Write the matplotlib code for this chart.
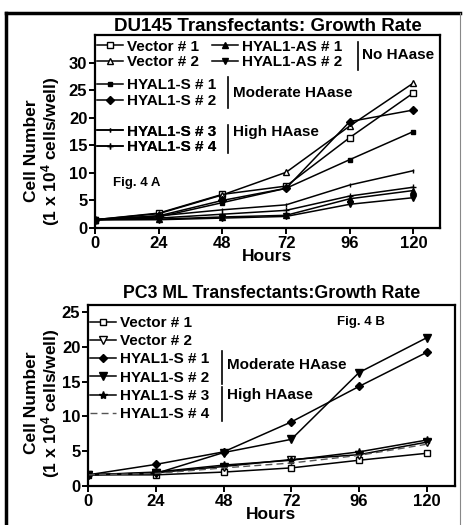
import numpy as np
import matplotlib
matplotlib.use("Agg")
import matplotlib.pyplot as plt
from matplotlib.lines import Line2D

plt.rcParams['font.family'] = ['Liberation Sans', 'DejaVu Sans']
plt.rcParams['font.weight'] = 'bold'
plt.rcParams['mathtext.fontset'] = 'custom'
plt.rcParams['mathtext.rm'] = 'Liberation Sans:bold'
plt.rcParams['mathtext.bf'] = 'Liberation Sans:bold'
plt.rcParams['mathtext.default'] = 'bf'

hours = [0, 24, 48, 72, 96, 120]

# DU145 transfectants (Fig. 4 A)
du_vector1 = [1.5, 2.7, 6.1, 7.6, 16.4, 24.5]
du_vector2 = [1.5, 2.6, 6.0, 10.1, 18.5, 26.3]
du_as1 = [1.5, 1.6, 2.0, 2.3, 5.3, 6.8]
du_as2 = [1.5, 1.5, 1.8, 2.1, 4.3, 5.5]
du_s1 = [1.5, 2.0, 4.6, 7.2, 12.4, 17.5]
du_s2 = [1.5, 2.2, 5.0, 7.2, 19.3, 21.4]
du_s3 = [1.5, 2.2, 3.3, 4.2, 7.8, 10.4]
du_s4 = [1.5, 1.8, 2.5, 3.2, 5.8, 7.4]

# PC3 ML transfectants (Fig. 4 B)
pc_vector1 = [1.6, 1.6, 2.0, 2.6, 3.7, 4.7]
pc_vector2 = [1.6, 1.9, 2.8, 3.8, 4.5, 6.3]
pc_s1 = [1.6, 3.1, 4.9, 9.2, 14.3, 19.2]
pc_s2 = [1.6, 1.8, 4.8, 6.7, 16.3, 21.3]
pc_s3 = [1.6, 2.0, 3.0, 3.7, 4.9, 6.6]
pc_s4 = [1.6, 1.8, 2.6, 3.3, 4.4, 6.0]

W, H = 464, 525
fig = plt.figure(figsize=(W / 100, H / 100), dpi=100)

def box(l, t, r, b):
    return [l / W, (H - b) / H, (r - l) / W, (b - t) / H]

ax1 = fig.add_axes(box(95, 35, 440, 228))
ax2 = fig.add_axes(box(88, 305, 455, 486))

lw = 1.1
k = dict(color='black', lw=lw)

# --- top panel
v1, = ax1.plot(hours, du_vector1, marker='s', ms=5, mfc='white', mec='black', label='Vector # 1', **k)
v2, = ax1.plot(hours, du_vector2, marker='^', ms=5, mfc='white', mec='black', label='Vector # 2', **k)
a1, = ax1.plot(hours, du_as1, marker='^', ms=4, mfc='black', label='HYAL1-AS # 1', **k)
a2, = ax1.plot(hours, du_as2, marker='v', ms=5, mfc='black', label='HYAL1-AS # 2', **k)
s1, = ax1.plot(hours, du_s1, marker='s', ms=3.5, mfc='black', label='HYAL1-S # 1', **k)
s2, = ax1.plot(hours, du_s2, marker='D', ms=4, mfc='black', label='HYAL1-S # 2', **k)
s3, = ax1.plot(hours, du_s3, marker='|', ms=3, mew=1, label='HYAL1-S # 3', **k)
s4, = ax1.plot(hours, du_s4, marker='+', ms=4, mew=1, label='HYAL1-S # 4', **k)

# --- bottom panel
p1, = ax2.plot(hours, pc_vector1, marker='s', ms=5, mfc='white', mec='black', label='Vector # 1', **k)
p2, = ax2.plot(hours, pc_vector2, marker='v', ms=5.5, mfc='white', mec='black', label='Vector # 2', **k)
p3, = ax2.plot(hours, pc_s1, marker='D', ms=4, mfc='black', label='HYAL1-S # 1', **k)
p4, = ax2.plot(hours, pc_s2, marker='v', ms=5.5, mfc='black', label='HYAL1-S # 2', **k)
p5, = ax2.plot(hours, pc_s3, marker='*', ms=6, mfc='black', label='HYAL1-S # 3', **k)
p6, = ax2.plot(hours, pc_s4, ls=(0, (5, 3)), color='#555555', lw=1.0, label='HYAL1-S # 4')

for ax in (ax1, ax2):
    ax.set_xlim(0, 130)
    ax.set_xticks(hours)
    for s in ax.spines.values():
        s.set_linewidth(1.6)
    ax.tick_params(direction='out', length=4, width=1.4, labelsize=12, pad=1.5)
    for t in ax.get_xticklabels() + ax.get_yticklabels():
        t.set_fontweight('bold')
    ax.set_xlabel('Hours', fontsize=12.5, fontweight='bold', labelpad=-1)
    ax.set_ylabel('Cell Number\n(1 x 10$^4$ cells/well)', fontsize=12.5,
                  fontweight='bold', linespacing=1.0)

ax1.set_ylim(0, 35)
ax1.set_yticks([0, 5, 10, 15, 20, 25, 30])
ax2.set_ylim(0, 26)
ax2.set_yticks([0, 5, 10, 15, 20, 25])
ax1.yaxis.set_label_coords(-0.095, 0.40)
ax2.yaxis.set_label_coords(-0.072, 0.46)

ax1.set_title('DU145 Transfectants: Growth Rate', fontsize=13.5, fontweight='bold', pad=2)
ax2.set_title('PC3 ML Transfectants:Growth Rate', fontsize=12.8, fontweight='bold', pad=5)

lk = dict(frameon=False, handlelength=1.7, handletextpad=0.25,
          borderpad=0, borderaxespad=0, loc='upper left',
          prop={'weight': 'bold', 'size': 11})

def bar(ax, x, y0, y1):
    ax.add_line(Line2D([x, x], [y0, y1], transform=ax.transAxes, color='black', lw=1.2))

# top legends
lg = ax1.legend(handles=[v1, v2, a1, a2], ncol=2, columnspacing=0.9, labelspacing=0.1,
                bbox_to_anchor=(0.005, 0.975), **lk)
ax1.add_artist(lg)
bar(ax1, 0.762, 0.964, 0.819)
ax1.text(0.774, 0.896, 'No HAase', transform=ax1.transAxes, fontsize=11, va='center')
lg = ax1.legend(handles=[s1, s2], labelspacing=0.1, bbox_to_anchor=(0.005, 0.775), **lk)
ax1.add_artist(lg)
bar(ax1, 0.386, 0.782, 0.622)
ax1.text(0.40, 0.70, 'Moderate HAase', transform=ax1.transAxes, fontsize=11, va='center')
lg = ax1.legend(handles=[s3, s4], labelspacing=0.1, bbox_to_anchor=(0.005, 0.535), **lk)
ax1.add_artist(lg)
bar(ax1, 0.386, 0.534, 0.389)
ax1.text(0.40, 0.497, 'High HAase', transform=ax1.transAxes, fontsize=11, va='center')
ax1.text(0.052, 0.233, 'Fig. 4 A', transform=ax1.transAxes, fontsize=9.5, va='center')

# bottom legend
lg = ax2.legend(handles=[p1, p2, p3, p4, p5, p6], labelspacing=0.28,
                bbox_to_anchor=(0.005, 0.94), **lk)
bar(ax2, 0.365, 0.748, 0.563)
ax2.text(0.379, 0.667, 'Moderate HAase', transform=ax2.transAxes, fontsize=11, va='center')
bar(ax2, 0.365, 0.546, 0.36)
ax2.text(0.379, 0.503, 'High HAase', transform=ax2.transAxes, fontsize=11, va='center')
ax2.text(0.678, 0.907, 'Fig. 4 B', transform=ax2.transAxes, fontsize=9.5, va='center')

# outer frame of the scanned figure
fig.add_artist(Line2D([6 / W, 6 / W], [0, 1 - 13 / H], color='black', lw=2.5))
fig.add_artist(Line2D([6 / W, 460 / W], [1 - 13 / H, 1 - 13 / H], color='black', lw=2.5))
fig.add_artist(Line2D([460 / W, 460 / W], [0, 1 - 13 / H], color='#888888', lw=0.8))

fig.savefig('out.png', dpi=100)
